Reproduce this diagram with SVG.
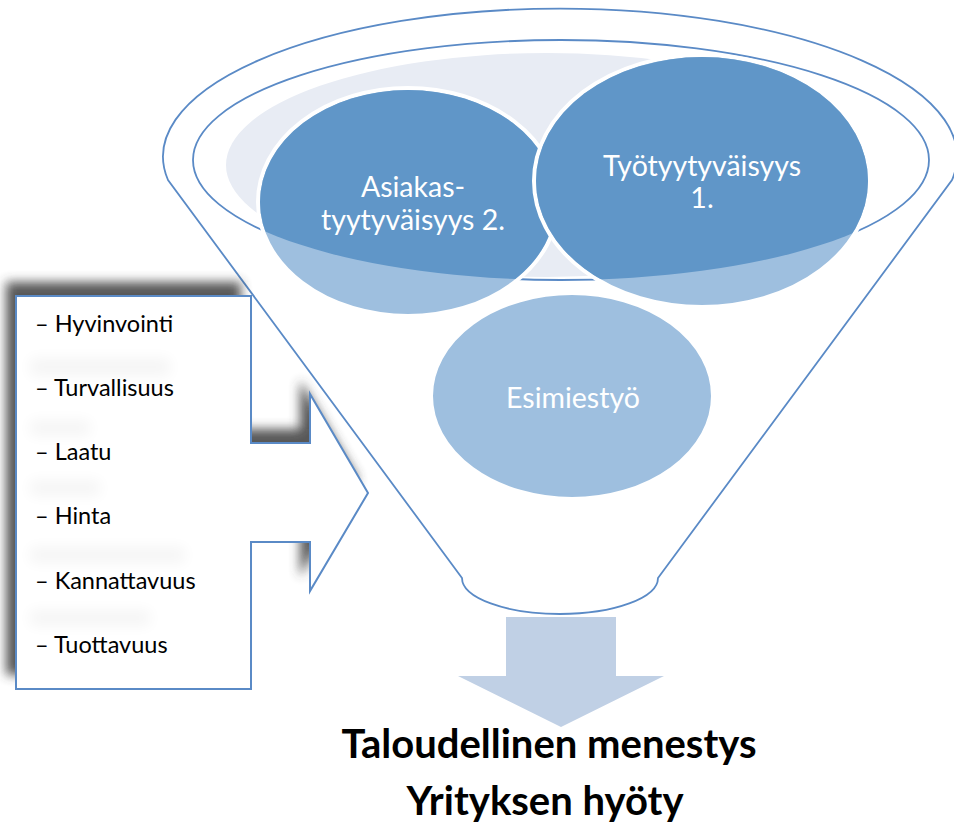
<svg xmlns="http://www.w3.org/2000/svg" width="954" height="830" viewBox="0 0 954 830">
  <style>
    .edge { fill: none; stroke: #5a8ac6; stroke-width: 1.8; }
    .dark { fill: #6096c8; }
    .light { fill: #9ebfdf; }
    .ring { stroke: #ffffff; stroke-width: 4; }
    .ctext { font-family: Lato, "Open Sans", sans-serif; font-size: 28.5px; fill: #ffffff; text-anchor: middle; }
    .item { font-family: Lato, "Open Sans", sans-serif; font-size: 23.5px; fill: #000000; }
    .result { font-family: Lato, "Liberation Sans", sans-serif; font-weight: bold; font-size: 40px; fill: #000000; text-anchor: middle; }
  </style>
  <defs>
    <filter id="dropShadow" x="-20%" y="-20%" width="140%" height="140%">
      <feGaussianBlur stdDeviation="5.5"/>
    </filter>
    <filter id="haze" x="-30%" y="-100%" width="160%" height="300%">
      <feGaussianBlur stdDeviation="7"/>
    </filter>
    <clipPath id="funnelMouth">
      <ellipse cx="561" cy="160" rx="368" ry="120"/>
    </clipPath>
    <path id="calloutShape" d="M 16 296 L 251 296 L 251 443 L 310 443 L 310 394 L 368 493 L 310 591 L 310 542 L 251 542 L 251 689 L 16 689 Z"/>
  </defs>

  <!-- funnel body -->
  <g id="funnel">
    <path class="edge" fill="#ffffff" d="M 168 180 A 397 148 0 1 1 952 180 L 658 578 A 98 36 0 0 1 462 578 Z"/>
    <ellipse class="edge" cx="561" cy="160" rx="368" ry="120"/>
    <ellipse cx="547" cy="165" rx="321" ry="112" fill="#e8ecf4"/>
  </g>

  <!-- circles inside the funnel -->
  <g id="asiakastyytyvaisyys">
    <ellipse class="light ring" cx="408" cy="202" rx="150" ry="114"/>
    <ellipse class="dark" cx="408" cy="202" rx="148" ry="112" clip-path="url(#funnelMouth)"/>
    <text class="ctext" x="413" y="197">Asiakas-</text>
    <text class="ctext" x="413" y="230">tyytyväisyys 2.</text>
  </g>
  <g id="tyotyytyvaisyys">
    <ellipse class="light ring" cx="702" cy="181" rx="168" ry="126"/>
    <ellipse class="dark" cx="702" cy="181" rx="166" ry="124" clip-path="url(#funnelMouth)"/>
    <text class="ctext" x="702" y="176">Työtyytyväisyys</text>
    <text class="ctext" x="702" y="208">1.</text>
  </g>
  <g id="esimiestyo">
    <ellipse class="light ring" cx="572" cy="396" rx="141" ry="103"/>
    <text class="ctext" x="573" y="408">Esimiestyö</text>
  </g>

  <!-- factor list with arrow into the funnel -->
  <g id="factors">
    <use href="#calloutShape" transform="translate(-10,-14)" fill="#3a3a3a" opacity="0.85" filter="url(#dropShadow)"/>
    <use href="#calloutShape" fill="#ffffff" stroke="#5a8ac6" stroke-width="2"/>
    <g fill="#000000" opacity="0.04" filter="url(#haze)">
      <rect x="30" y="358" width="140" height="18"/>
      <rect x="30" y="420" width="60" height="16"/>
      <rect x="30" y="480" width="70" height="16"/>
      <rect x="30" y="547" width="155" height="16"/>
      <rect x="30" y="610" width="120" height="16"/>
    </g>
    <text class="item" x="35" y="332">– Hyvinvointi</text>
    <text class="item" x="35" y="396">– Turvallisuus</text>
    <text class="item" x="35" y="460">– Laatu</text>
    <text class="item" x="35" y="524">– Hinta</text>
    <text class="item" x="35" y="589">– Kannattavuus</text>
    <text class="item" x="35" y="653">– Tuottavuus</text>
  </g>

  <!-- output arrow -->
  <g id="connectors">
    <path fill="#c0d0e5" d="M 506 617 L 616 617 L 616 676 L 664 676 L 561 727 L 458 676 L 506 676 Z"/>
  </g>

  <g id="outcome">
    <text class="result" x="549" y="758">Taloudellinen menestys</text>
    <text class="result" x="545" y="815">Yrityksen hyöty</text>
  </g>
</svg>
